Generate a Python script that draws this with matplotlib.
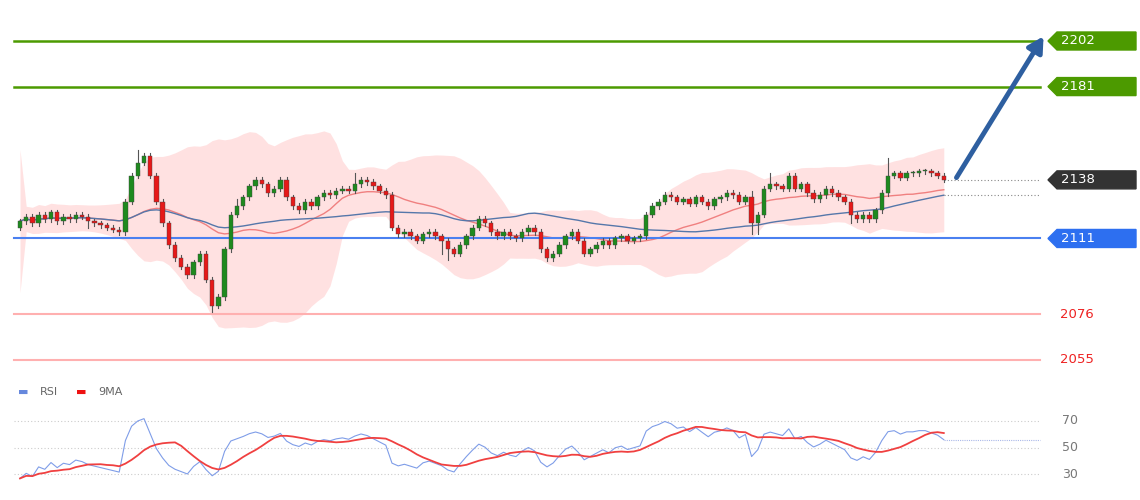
import numpy as np
import pandas as pd
import matplotlib
matplotlib.use("Agg")
import matplotlib.pyplot as plt
from matplotlib.patches import Polygon

closes = [2119,2121,2118,2122,2120,2123,2119,2121,2120,2122,
          2121,2119,2118,2117,2116,2115,2114,2128,2140,2146,
          2149,2140,2128,2118,2108,2102,2098,2094,2100,2104,
          2092,2080,2084,2106,2122,2126,2130,2135,2138,2136,
          2132,2134,2138,2130,2126,2124,2128,2126,2130,2132,
          2131,2133,2134,2133,2136,2138,2137,2135,2133,2131,
          2116,2113,2114,2112,2110,2113,2114,2112,2110,2106,
          2104,2108,2112,2116,2120,2118,2114,2112,2114,2112,
          2111,2114,2116,2114,2106,2102,2104,2108,2112,2114,
          2110,2104,2106,2108,2110,2108,2111,2112,2110,2111,
          2112,2122,2126,2128,2131,2130,2128,2129,2127,2130,
          2128,2126,2129,2130,2132,2131,2128,2130,2118,2122,
          2134,2136,2135,2134,2140,2134,2136,2132,2129,2131,
          2134,2132,2130,2128,2122,2120,2122,2120,2124,2132,
          2140,2141,2139,2141,2141,2142,2142,2141,2140,2138]
first_open = 2116
long_wicks_up = {19: 6, 35: 3, 54: 5, 118: 3, 121: 5, 140: 8}
long_wicks_dn = {11: 3, 31: 3, 68: 6, 69: 5, 118: 5, 119: 5, 134: 4}
levels_green = [2202, 2181]
level_now = 2138
level_blue = 2111
levels_red = [2076, 2055]
rsi_ticks = [70, 50, 30]
rsi_seed_gain, rsi_seed_loss = 0.8, 2.2

W, H = 1140, 500
fig = plt.figure(figsize=(W/100, H/100), dpi=100)
fig.patch.set_facecolor("white")

def px2i(x): return (x - 20) / 6.2
def py2p(y): return 2202 - (y - 41) / 2.17

ax = fig.add_axes([0, 130/H, 1, 370/H])
ax.set_xlim(px2i(0), px2i(W)); ax.set_ylim(py2p(370), py2p(0)); ax.axis("off")

n = len(closes)
idx = np.arange(n)
c = pd.Series(closes, dtype=float)
opens = [first_open] + closes[:-1]
sma = c.rolling(20, min_periods=1).mean()
sd = c.rolling(20, min_periods=2).std().fillna(15) + 1.5
upper, lower = sma + 2*sd, sma - 2*sd
slow = c.rolling(50, min_periods=1).mean()

ax.fill_between(idx, lower, upper, color="#ffd5d5", alpha=0.7, lw=0)
ax.plot(idx, sma, color="#f08080", lw=1)
ax.plot(idx, slow, color="#5577aa", lw=1)

for i in range(n):
    o, cl = opens[i], closes[i]
    hi = max(o, cl) + long_wicks_up.get(i, 1.2)
    lo = min(o, cl) - long_wicks_dn.get(i, 1.2)
    col = "#1e8a1e" if cl >= o else "#e61919"
    ax.plot([i, i], [lo, hi], color="#555555", lw=0.8, zorder=3)
    b = max(abs(cl - o), 0.5)
    ax.bar(i, b, bottom=min(o, cl), width=0.7, color=col, edgecolor="#444444", lw=0.3, zorder=4)

xl, xr = px2i(14), px2i(1040)
for lv in levels_green:
    ax.plot([xl, xr], [lv, lv], color="#4c9a00", lw=1.8)
ax.plot([xl, xr], [level_blue, level_blue], color="#4a80f0", lw=1.5)
for lv in levels_red:
    ax.plot([xl, xr], [lv, lv], color="#ffb0b0", lw=1.5)
ax.plot([n - 1, xr], [level_now, level_now], color="#888888", lw=0.8, ls=(0, (1, 2)))
ax.plot([n - 1, xr], [slow.iloc[-1], slow.iloc[-1]], color="#888888", lw=0.8, ls=(0, (1, 2)))

def tag(val, fc):
    y = 41 + (2202 - val) * 2.17
    pts = [(1048, y), (1057, y - 9), (1136, y - 9), (1136, y + 9), (1057, y + 9)]
    fig.patches.append(Polygon([(px / W, 1 - py / H) for px, py in pts], closed=True,
                               fc=fc, ec=fc, transform=fig.transFigure, figure=fig))
    fig.text(1061 / W, 1 - y / H, str(val), color="white", fontsize=9.5, va="center", ha="left", zorder=10)
for lv in levels_green: tag(lv, "#4c9a00")
tag(level_now, "#333333")
tag(level_blue, "#2d6ff0")
for lv in levels_red:
    ax.text(px2i(1060), lv, str(lv), color="#ee2222", fontsize=9.5, va="center")

ax.annotate("", xy=(px2i(1045), py2p(34)), xytext=(px2i(955), py2p(180)),
            arrowprops=dict(arrowstyle="-|>,head_width=0.5,head_length=0.9", color="#2e5fa0", lw=3.5))

# RSI (Wilder smoothing, seeded)
delta = c.diff().fillna(0).values
g, l = rsi_seed_gain, rsi_seed_loss
rsi_vals = []
for d in delta:
    g = (g * 13 + max(d, 0)) / 14
    l = (l * 13 + max(-d, 0)) / 14
    rsi_vals.append(100 - 100 / (1 + g / l))
rsi = pd.Series(rsi_vals)
ma9 = rsi.rolling(9, min_periods=1).mean()

ax2 = fig.add_axes([0, 0, 1, 100/H])
ax2.set_xlim(px2i(0), px2i(W))
def ry(y): return 70 - (y - 421) / 1.325
ax2.set_ylim(ry(500), ry(400)); ax2.axis("off")
for t in rsi_ticks:
    ax2.plot([xl, px2i(1040)], [t, t], color="#cccccc", lw=0.8, ls=(0, (1, 2)))
    ax2.text(px2i(1062), t, str(t), color="#777777", fontsize=9, va="center")
ax2.plot(idx, rsi, color="#7f9de8", lw=0.8)
ax2.plot(idx, ma9, color="#f04040", lw=1.3)
ax2.plot([n - 1, px2i(1040)], [rsi.iloc[-1]] * 2, color="#aab8e8", lw=0.8, ls=(0, (1, 1)))

fig.text(18/W, 1 - 392/H, "▬", color="#6688dd", fontsize=8, va="center")
fig.text(40/W, 1 - 392/H, "RSI", color="#666666", fontsize=8, va="center")
fig.text(76/W, 1 - 392/H, "▬", color="#ee1111", fontsize=8, va="center")
fig.text(98/W, 1 - 392/H, "9MA", color="#666666", fontsize=8, va="center")

fig.savefig("out.png", dpi=100)
